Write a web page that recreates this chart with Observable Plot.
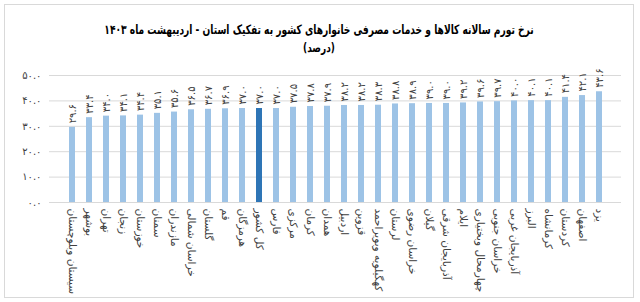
<!DOCTYPE html>
<html>
<head>
<meta charset="utf-8">
<script src="https://cdn.jsdelivr.net/npm/d3@7"></script>
<script src="https://cdn.jsdelivr.net/npm/@observablehq/plot@0.6"></script>
<style>
  html, body { margin: 0; padding: 0; background: #fff; }
  #box { position: absolute; left: 4px; top: 4px; width: 630px; height: 294px; border: 1px solid #d9d9d9; box-sizing: border-box; overflow: hidden; font-family: "DejaVu Sans", sans-serif; }
  #title { position: absolute; top: 17px; left: 0; width: 100%; text-align: center; font-weight: bold; font-size: 13px; color: #000; direction: rtl; white-space: nowrap; transform: scaleX(0.7); transform-origin: 50% 50%; }
  #subtitle { position: absolute; top: 36px; left: 0; width: 100%; text-align: center; font-weight: bold; font-size: 12px; color: #000; direction: rtl; white-space: nowrap; transform: scaleX(0.75); }
  #chart { position: absolute; top: 55px; left: 0; }
  #chart svg g[aria-label="x-axis tick label"] text { font-size: 10.5px; }
</style>
</head>
<body>
<div id="box">
  <div id="title">نرخ تورم سالانه کالاها و خدمات مصرفی خانوارهای کشور به تفکیک استان - اردیبهشت ماه ۱۴۰۳</div>
  <div id="subtitle">(درصد)</div>
  <div id="chart"></div>
</div>
<script>
const provinces = ["سیستان وبلوچستان","بوشهر","تهران","زنجان","خوزستان","سمنان","مازندران","خراسان شمالی","گلستان","قم","هرمزگان","کل کشور","فارس","مرکزی","کرمان","همدان","اردبیل","قزوین","کهگیلویه وبویراحمد","لرستان","خراسان رضوی","گیلان","آذربایجان شرقی","ایلام","چهارمحال وبختیاری","خراسان جنوبی","آذربایجان غربی","البرز","کرمانشاه","کردستان","اصفهان","یزد"];
const rates = [29.6,33.4,34.0,34.1,34.4,35.1,35.6,36.5,36.7,36.9,37.0,37.0,37.0,37.5,37.8,37.9,38.2,38.2,38.3,38.8,38.9,39.0,39.0,39.2,39.6,39.7,40.0,40.1,40.1,41.4,42.1,43.6];
const highlight = "کل کشور";
const yTicks = [0,10,20,30,40,50];

const faDigits = s => String(s).replace(/[0-9]/g, d => "۰۱۲۳۴۵۶۷۸۹"[+d]);
const fmt = v => faDigits(v.toFixed(1));

const data = provinces.map((p, i) => ({province: p, rate: rates[i], hl: p === highlight}));

const chart = Plot.plot({
  width: 628,
  height: 236,
  marginTop: 15,
  marginLeft: 44,
  marginRight: 12,
  marginBottom: 94,
  style: {fontFamily: "DejaVu Sans, sans-serif", fontSize: "10px", color: "#404040", background: "#fff"},
  x: {domain: provinces, padding: 0.66, label: null, tickSize: 0, tickPadding: 6, tickRotate: 90},
  y: {domain: [0, 50], ticks: yTicks, tickFormat: fmt, label: null, tickSize: 0, tickPadding: 8},
  marks: [
    Plot.gridY(yTicks, {stroke: "#d9d9d9", strokeOpacity: 1}),
    Plot.barY(data, {x: "province", y: "rate", fill: d => d.hl ? "#2e75b6" : "#9dc3e6"}),
    Plot.text(data, {x: "province", y: "rate", text: d => fmt(d.rate), rotate: -90, textAnchor: "start", dy: -4, fill: "#404040", fontSize: 10}),
    Plot.ruleY([0], {stroke: "#d9d9d9"})
  ]
});
document.getElementById("chart").appendChild(chart);
</script>
</body>
</html>
